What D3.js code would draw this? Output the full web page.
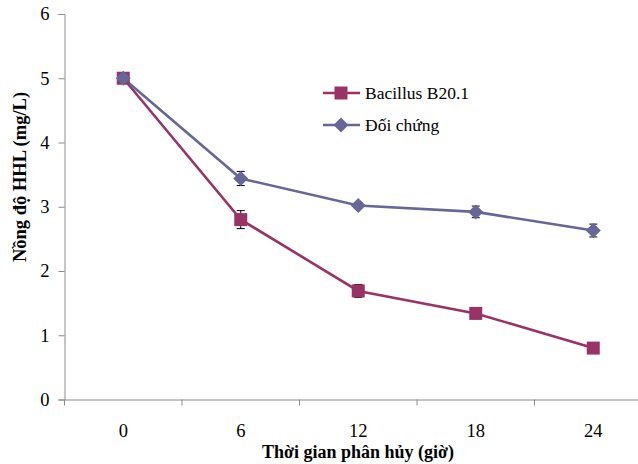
<!DOCTYPE html>
<html><head><meta charset="utf-8">
<script src="https://cdn.jsdelivr.net/npm/d3@7"></script>
<style>body{margin:0;background:#fff}svg{display:block}</style>
</head><body><svg id="c" width="638" height="464"></svg>
<script>
const categories = ["0","6","12","18","24"];
const seriesNames = ["Bacillus B20.1","Đối chứng"];
const bacillus = [5.0, 2.80, 1.69, 1.34, 0.80];
const bacillusErr = [0.0, 0.14, 0.10, 0.04, 0.03];
const control = [5.0, 3.44, 3.02, 2.92, 2.63];
const controlErr = [0.0, 0.11, 0.04, 0.09, 0.10];
const yTicks = [0,1,2,3,4,5,6];
const colors = ["#993366","#666699"];

(function(){
const svg = d3.select("#c");
const mLeft = 64.5, mTop = 14, mBottom = 399.5, bandW = 117.5;
const x = d3.scaleBand().domain(categories).range([mLeft, mLeft + bandW*categories.length]).padding(0);
const y = d3.scaleLinear().domain([0,6]).range([mBottom, mTop]);
const font = "'Liberation Serif','Times New Roman',serif";

// y axis
const ya = svg.append("g").attr("transform",`translate(${mLeft},0)`)
  .call(d3.axisLeft(y).tickValues(yTicks).tickFormat(d3.format("d")).tickSize(6).tickPadding(9));
ya.attr("font-family",null).attr("font-size",null);
ya.select(".domain").attr("stroke","#8c8c8c");
ya.selectAll(".tick line").attr("stroke","#8c8c8c");
ya.selectAll("text").style("font-family",font).style("font-size","18.5px").attr("fill","#000");

// x axis
const xa = svg.append("g").attr("transform",`translate(0,${mBottom})`)
  .call(d3.axisBottom(x).tickSize(0));
xa.attr("font-family",null).attr("font-size",null);
xa.select(".domain").attr("stroke","#8c8c8c");
xa.selectAll("text").attr("y",31).attr("dy","0.35em").style("font-family",font).style("font-size","18.5px").attr("fill","#000");
const bounds = categories.map(c => x(c)).concat([x(categories[categories.length-1]) + x.bandwidth()]);
svg.append("g").selectAll("line").data(bounds).join("line")
  .attr("x1",d=>d).attr("x2",d=>d).attr("y1",mBottom).attr("y2",mBottom+6)
  .attr("stroke","#8c8c8c");

// axis titles
svg.append("text").attr("x",358).attr("y",458).attr("text-anchor","middle")
  .style("font-family",font).style("font-weight","bold").style("font-size","18px")
  .text("Thời gian phân hủy (giờ)");
svg.append("text").attr("transform","translate(26,177) rotate(-90)").attr("text-anchor","middle")
  .style("font-family",font).style("font-weight","bold").style("font-size","18.5px")
  .text("Nồng độ HHL (mg/L)");

const cx = c => x(c) + x.bandwidth()/2;
const data = [bacillus, control];
const errs = [bacillusErr, controlErr];

const line = d3.line().x((d,j)=>cx(categories[j])).y(d=>y(d));
const drawMarker = (g, i, xx, yy) => {
  if (i===0) g.append("rect").attr("x",xx-6.5).attr("y",yy-6.5).attr("width",13).attr("height",13).attr("fill",colors[0]);
  else g.append("path").attr("d",`M${xx},${yy-7.5}L${xx+7.5},${yy}L${xx},${yy+7.5}L${xx-7.5},${yy}Z`).attr("fill",colors[1]);
};
data.forEach((s,i)=>{
  svg.append("path").datum(s).attr("d",line).attr("fill","none").attr("stroke",colors[i]).attr("stroke-width",2.6);
});

data.forEach((s,i)=>{
  const g = svg.append("g");
  s.forEach((v,j)=>{
    const e = errs[i][j];
    if (!e) return;
    const xx = cx(categories[j]);
    g.append("line").attr("x1",xx).attr("x2",xx).attr("y1",y(v+e)).attr("y2",y(v-e)).attr("stroke","#000").attr("stroke-width",1);
    g.append("line").attr("x1",xx-4).attr("x2",xx+4).attr("y1",y(v+e)).attr("y2",y(v+e)).attr("stroke","#000").attr("stroke-width",1);
    g.append("line").attr("x1",xx-4).attr("x2",xx+4).attr("y1",y(v-e)).attr("y2",y(v-e)).attr("stroke","#000").attr("stroke-width",1);
  });
});

[0,1].forEach(i=>{
  const g = svg.append("g");
  data[i].forEach((v,j)=>drawMarker(g,i,cx(categories[j]),y(v)));
});

const lg = svg.append("g");
seriesNames.forEach((n,i)=>{
  const ly = 93 + i*32;
  lg.append("line").attr("x1",323).attr("x2",360).attr("y1",ly).attr("y2",ly).attr("stroke",colors[i]).attr("stroke-width",2.6);
  drawMarker(lg,i,341,ly);
  lg.append("text").attr("x",365).attr("y",ly).attr("dy","0.35em").style("font-family",font).style("font-size","17.5px").text(n);
});
})();
</script></body></html>
